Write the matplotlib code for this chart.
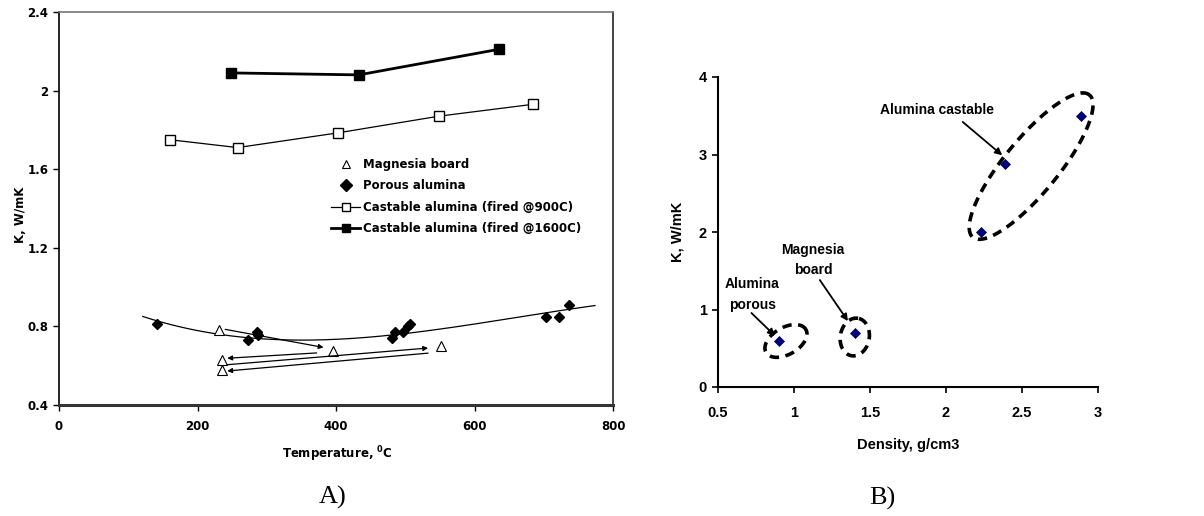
import numpy as np
import matplotlib
matplotlib.use("Agg")
import matplotlib.pyplot as plt

# --- data -------------------------------------------------------------
# A) K vs temperature
mag_T = [231, 395, 551, 235, 236]
mag_K = [0.78, 0.675, 0.70, 0.63, 0.58]

por_T = [141, 273, 286, 288, 481, 485, 497, 504, 507, 703, 722, 736]
por_K = [0.81, 0.73, 0.77, 0.755, 0.74, 0.77, 0.77, 0.80, 0.81, 0.85, 0.85, 0.91]

c900_T = [160, 258, 403, 549, 684]
c900_K = [1.75, 1.71, 1.785, 1.87, 1.93]

c1600_T = [248, 433, 635]
c1600_K = [2.09, 2.08, 2.21]

# trend line of porous alumina
trend_T = [121, 175, 222, 295, 352, 435, 507, 579, 703, 774]
trend_K = [0.848, 0.802, 0.766, 0.736, 0.721, 0.748, 0.771, 0.797, 0.868, 0.907]

# heating / cooling arrows between magnesia board points: (T0, K0, T1, K1)
mag_arrows = [
    (240, 0.785, 382, 0.693),
    (372, 0.665, 243, 0.638),
    (243, 0.605, 533, 0.69),
    (533, 0.664, 243, 0.573),
]

# B) K vs density
dens = [0.9, 1.4, 2.23, 2.39, 2.89]
dens_K = [0.6, 0.7, 2.0, 2.88, 3.5]

# dashed ellipses: centre (data), major px, minor px, angle deg
groups = [
    (2.56, 2.85, 184, 54, 50.7),
    (0.947, 0.594, 46, 27, 30),
    (1.40, 0.645, 38, 29, 80),
]

# ----------------------------------------------------------------------
plt.rcParams["font.family"] = ["DejaVu Sans"]
plt.rcParams["font.weight"] = "bold"
plt.rcParams["mathtext.fontset"] = "dejavusans"

W, H = 1204, 516
fig = plt.figure(figsize=(W / 100, H / 100), dpi=100)

# ---------------- panel A ----------------
ax = fig.add_axes([59 / W, 1 - 405 / H, (613 - 59) / W, (405 - 12) / H])
ax.set_xlim(0, 800)
ax.set_ylim(0.4, 2.4)

fit = np.polyfit(trend_T, trend_K, 3)
tt = np.linspace(trend_T[0], trend_T[-1], 200)
ax.plot(tt, np.polyval(fit, tt), color="black", lw=0.9, zorder=2)

ax.plot(mag_T, mag_K, linestyle="none", marker="^", ms=7.5, mfc="white",
        mec="black", mew=0.8, label="Magnesia board", zorder=3)
ax.plot(por_T, por_K, linestyle="none", marker="D", ms=5.5, color="black",
        label="Porous alumina", zorder=3)
ax.plot(c900_T, c900_K, color="black", lw=0.9, marker="s", ms=7.5, mfc="white",
        mec="black", mew=1.0, label="Castable alumina (fired @900C)", zorder=3)
ax.plot(c1600_T, c1600_K, color="black", lw=2.0, marker="s", ms=7.5,
        label="Castable alumina (fired @1600C)", zorder=3)

for t0, k0, t1, k1 in mag_arrows:
    ax.annotate("", xy=(t1, k1), xytext=(t0, k0),
                arrowprops=dict(arrowstyle="-|>", lw=0.9, color="black",
                                mutation_scale=7, shrinkA=0, shrinkB=0))

leg = ax.legend(loc="upper left", bbox_to_anchor=(0.482, 0.64), frameon=False,
                fontsize=8.5, handlelength=2.5, handletextpad=0.2,
                labelspacing=0.7, borderaxespad=0)
for txt in leg.get_texts():
    txt.set_fontweight("bold")
for h in leg.legend_handles:
    h.set_markersize(6)

ax.set_xticks([0, 200, 400, 600, 800])
ax.set_yticks([0.4, 0.8, 1.2, 1.6, 2.0, 2.4])
ax.set_yticklabels(["0.4", "0.8", "1.2", "1.6", "2", "2.4"])
ax.tick_params(direction="out", length=4, width=1, labelsize=8.5, pad=3.5)
ax.tick_params(axis="x", pad=7)
for lab in ax.get_xticklabels() + ax.get_yticklabels():
    lab.set_fontweight("bold")
ax.spines["left"].set_color("black")
ax.spines["left"].set_linewidth(1.2)
ax.spines["bottom"].set_color("#333333")
ax.spines["bottom"].set_linewidth(2.2)
ax.spines["top"].set_color("#777777")
ax.spines["top"].set_linewidth(1.2)
ax.spines["right"].set_color("#222222")
ax.spines["right"].set_linewidth(1.2)

ax.set_xlabel("Temperature, $\\mathbf{^{0}}$C", fontsize=8.5, fontweight="bold")
ax.xaxis.set_label_coords(0.502, -0.1)
ax.set_ylabel("K, W/mK", fontsize=8.5, fontweight="bold")
ax.yaxis.set_label_coords(-0.058, 0.483)

fig.text(333 / W, 1 - 497 / H, "A)", family="Liberation Serif", fontweight="normal",
         fontsize=19, ha="center", va="center")

# ---------------- panel B ----------------
sans = "Liberation Sans"
bx = fig.add_axes([718 / W, 1 - 387 / H, (1098 - 718) / W, (387 - 77) / H])
bx.set_xlim(0.5, 3)
bx.set_ylim(0, 4)
bx.plot(dens, dens_K, linestyle="none", marker="D", ms=5, color="#000080",
        mec="#000040", mew=0.5, zorder=3)

# dashed ellipses drawn in screen space, mapped back to data
inv = bx.transData.inverted()
phi = np.linspace(0, 2 * np.pi, 300)
for cx, cy, maj, mnr, ang in groups:
    px, py = bx.transData.transform((cx, cy))
    a = np.radians(ang)
    ex = maj / 2 * np.cos(phi)
    ey = mnr / 2 * np.sin(phi)
    dx = px + ex * np.cos(a) - ey * np.sin(a)
    dy = py + ex * np.sin(a) + ey * np.cos(a)
    pts = inv.transform(np.column_stack([dx, dy]))
    bx.plot(pts[:, 0], pts[:, 1], color="black", lw=2.6,
            linestyle=(0, (2.6, 1.8)), zorder=2)

arrow = dict(arrowstyle="-|>", lw=1.3, color="black", mutation_scale=10,
             shrinkA=0, shrinkB=0)
bx.annotate("", xy=(2.37, 2.99), xytext=(2.11, 3.42), arrowprops=arrow)
bx.text(1.94, 3.57, "Alumina castable", family=sans, fontsize=10,
        fontweight="bold", ha="center", va="center")
bx.annotate("", xy=(1.355, 0.85), xytext=(1.17, 1.38), arrowprops=arrow)
bx.text(1.125, 1.64, "Magnesia\nboard", family=sans, fontsize=10,
        fontweight="bold", ha="center", va="center", linespacing=1.6)
bx.annotate("", xy=(0.875, 0.66), xytext=(0.72, 0.955), arrowprops=arrow)
bx.text(0.724, 1.19, "Alumina\nporous", family=sans, fontsize=10,
        fontweight="bold", ha="center", va="center", linespacing=1.6)

bx.set_xticks([0.5, 1, 1.5, 2, 2.5, 3])
bx.set_xticklabels(["0.5", "1", "1.5", "2", "2.5", "3"])
bx.set_yticks([0, 1, 2, 3, 4])
bx.tick_params(direction="out", length=4, width=1.2, labelsize=10.5, pad=4)
bx.tick_params(axis="x", pad=10)
for lab in bx.get_xticklabels() + bx.get_yticklabels():
    lab.set_family(sans)
    lab.set_fontweight("bold")
bx.spines["top"].set_visible(False)
bx.spines["right"].set_visible(False)
bx.spines["left"].set_linewidth(1.5)
bx.spines["bottom"].set_linewidth(1.5)
bx.set_xlabel("Density, g/cm3", family=sans, fontsize=10.5, fontweight="bold")
bx.xaxis.set_label_coords(0.5, -0.165)
bx.set_ylabel("K, W/mK", family=sans, fontsize=10.5, fontweight="bold")
bx.yaxis.set_label_coords(-0.089, 0.5)

fig.text(882 / W, 1 - 498 / H, "B)", family="Liberation Serif", fontweight="normal",
         fontsize=19, ha="center", va="center")

fig.savefig("out.png", dpi=100)
